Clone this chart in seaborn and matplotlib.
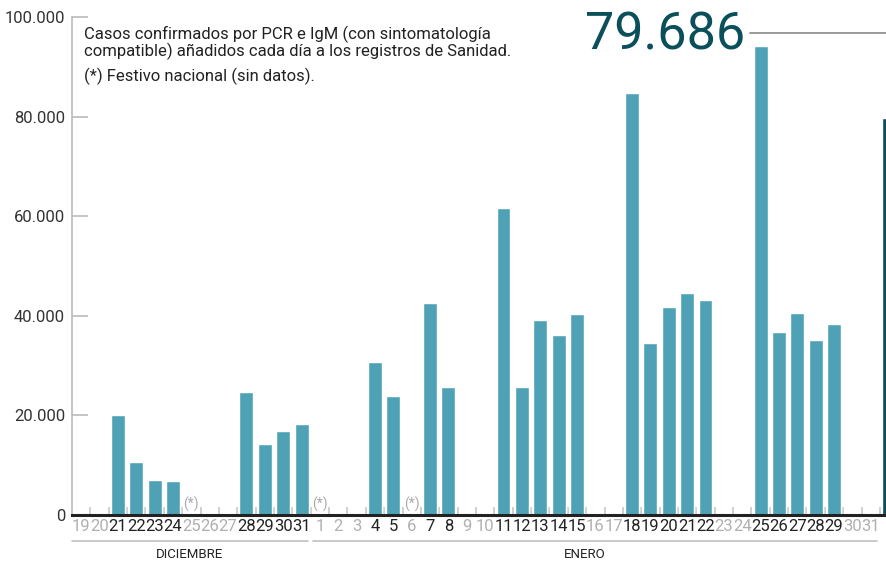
import numpy as np
import pandas as pd
import matplotlib
matplotlib.use("Agg")
import matplotlib.pyplot as plt
import seaborn as sns
from matplotlib.lines import Line2D
from matplotlib.transforms import blended_transform_factory

# ---------------- data ----------------
dias = [str(d) for d in range(19, 32)] + [str(d) for d in range(1, 32)] + ["1"]
meses = ["DICIEMBRE"] * 13 + ["ENERO"] * 31 + ["FEBRERO"]
# None = festivo nacional (sin datos); 0 = sin registro
casos = [0, 0, 20000, 10600, 7000, 6800, None, 0, 0, 24700, 14300, 16900, 18300,
         None, 0, 0, 30700, 23900, None, 42600, 25700, 0, 0, 61600, 25700, 39200,
         36100, 40400, 0, 0, 84700, 34500, 41800, 44600, 43200, 0, 0, 94200, 36700,
         40600, 35100, 38400, 0, 0,
         79686]
y_ticks = [0, 20000, 40000, 60000, 80000, 100000]
nota = ("Casos confirmados por PCR e IgM (con sintomatología\n"
        "compatible) añadidos cada día a los registros de Sanidad.")
nota_festivo = "(*) Festivo nacional (sin datos)."

def fmt(v):
    return f"{v:,.0f}".replace(",", ".")

# ---------------- style ----------------
sns.set_theme(style="white")
plt.rcParams["font.family"] = ["Roboto", "DejaVu Sans"]

BAR = "#4fa2b5"
DARK = "#0b4f5a"
GREY = "#aaaaaa"
TXT = "#222222"

n = len(dias)
df = pd.DataFrame({
    "pos": list(range(n)),
    "casos": [0 if c is None else c for c in casos],
    "tipo": ["normal"] * (n - 1) + ["ultimo"],
})

fig = plt.figure(figsize=(8.86, 5.62), dpi=100)
ax = fig.add_axes([72 / 886, 47 / 562, 814 / 886, 498 / 562])

sns.barplot(data=df, x="pos", y="casos", hue="tipo",
            palette={"normal": BAR, "ultimo": DARK}, dodge=False,
            width=0.76, saturation=1, legend=False, ax=ax)

ax.set_xlim(-0.5, 43.83)
ax.set_ylim(0, 100000)
ax.set_xlabel("")
ax.set_ylabel("")

# x ticks: day labels
nvis = 44
ax.set_xticks(range(nvis))
ax.set_xticklabels(dias[:nvis])
ax.tick_params(axis="x", which="major", bottom=True, length=0, pad=3,
               labelsize=12)
for i, lab in enumerate(ax.get_xticklabels()):
    c = casos[i]
    lab.set_color(TXT if (c is not None and c > 0) else "#b0b0b0")
ax.set_xticks(np.arange(0.5, nvis, 1), minor=True)
ax.tick_params(axis="x", which="minor", bottom=True, direction="in", length=6,
               color="#c4c4c4", width=1.1)

# y ticks
ax.set_yticks(y_ticks)
ax.set_yticklabels([fmt(v) for v in y_ticks])
ax.tick_params(axis="y", which="major", left=True, direction="in",
               length=11.5, color="#bbbbbb", width=1.2, labelsize=12, pad=5,
               labelcolor="#333333")

for s in ["top", "right"]:
    ax.spines[s].set_visible(False)
ax.spines["left"].set_color("#bbbbbb")
ax.spines["left"].set_linewidth(1.2)
ax.spines["bottom"].set_color("#222222")
ax.spines["bottom"].set_linewidth(2.2)
ax.spines["bottom"].set_zorder(5)

# festivo markers
for i, c in enumerate(casos):
    if c is None:
        ax.text(i, 600, "(*)", ha="center", va="bottom", color=GREY, fontsize=10)

# month brackets
trans = blended_transform_factory(ax.transData, ax.transAxes)
mes_lbl_x = {"DICIEMBRE": None, "ENERO": 27.4}
for mes in ["DICIEMBRE", "ENERO"]:
    idx = [i for i, m in enumerate(meses) if m == mes]
    x0 = idx[0] - 0.5 + (0.15 if idx[0] > 0 else 0.0)
    x1 = idx[-1] + 0.5 - 0.15
    ax.plot([x0, x1], [-0.052, -0.052], color="#c0c0c0", lw=1.2,
            transform=trans, clip_on=False)
    xc = mes_lbl_x[mes] if mes_lbl_x[mes] is not None else (x0 + x1) / 2
    ax.text(xc, -0.079, mes, ha="center", va="center", fontsize=9.5,
            color=TXT, transform=trans)

# annotations
fig.text(84 / 886, 1 - 26 / 562, nota, ha="left", va="top", fontsize=12,
         color=TXT, linespacing=0.98)
fig.text(84 / 886, 1 - 76 / 562, nota_festivo, ha="left", va="center",
         fontsize=12, color=TXT)

# highlighted latest value
fig.text(745 / 886, 1 - 36 / 562, fmt(casos[-1]), ha="right", va="center",
         fontsize=37.5, color=DARK, fontweight="normal")
fig.add_artist(Line2D([750 / 886, 1.0], [1 - 33 / 562, 1 - 33 / 562],
                      color="#888888", lw=1.2, transform=fig.transFigure))

fig.savefig("out.png", dpi=100)
